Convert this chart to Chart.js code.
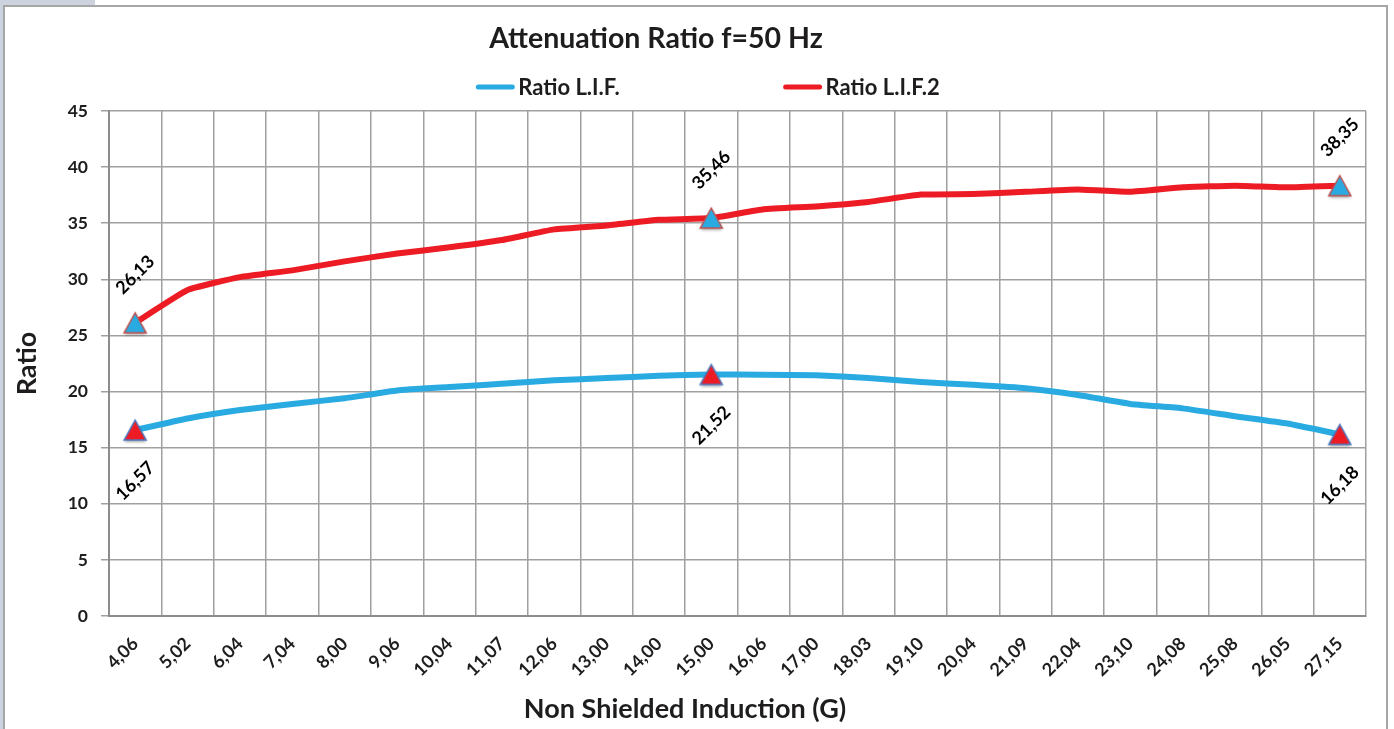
<!DOCTYPE html>
<html>
<head>
<meta charset="utf-8">
<title>Attenuation Ratio f=50 Hz</title>
<script src="https://cdn.jsdelivr.net/npm/chart.js@4.4.0/dist/chart.umd.min.js"></script>
<style>
html, body { margin: 0; padding: 0; background: #fff; overflow: hidden; }
#wrap { position: relative; width: 1394px; height: 729px; }
#frame { position: absolute; left: 3px; top: 5px; width: 1385px; height: 760px; border: 2px solid #a6a6a6; box-sizing: border-box; }
#tab { position: absolute; left: 0; top: 0; width: 95px; height: 5px; background: #ccd3df; }
#strip { position: absolute; left: 0; top: 0; width: 3px; height: 729px; background: #ccd3df; }
#myChart { position: absolute; left: 0; top: 0; }
</style>
</head>
<body>
<div id="wrap">
  <div id="tab"></div>
  <div id="strip"></div>
  <div id="frame"></div>
  <canvas id="myChart" width="1394" height="729"></canvas>
</div>
<script>
// 數據
const titleText = 'Attenuation Ratio f=50 Hz';
const xTitleText = 'Non Shielded Induction (G)';
const categories = ['4,06', '5,02', '6,04', '7,04', '8,00', '9,06', '10,04', '11,07', '12,06', '13,00', '14,00', '15,00',
    '16,06', '17,00', '18,03', '19,10', '20,04', '21,09', '22,04', '23,10', '24,08', '25,08', '26,05', '27,15'];
const ratioLIF = [16.57, 17.6, 18.35, 18.9, 19.4, 20.1, 20.4, 20.7, 21.0, 21.2, 21.4, 21.52,
    21.5, 21.45, 21.2, 20.85, 20.6, 20.3, 19.7, 18.9, 18.5, 17.8, 17.15, 16.18];
const ratioLIF2 = [26.13, 29.05, 30.2, 30.8, 31.6, 32.3, 32.85, 33.5, 34.45, 34.8, 35.3, 35.46,
    36.25, 36.5, 36.9, 37.55, 37.6, 37.8, 38.0, 37.8, 38.2, 38.35, 38.2, 38.35];
const markedIdx = [0, 11, 23];

const blue = '#29abe2';
const red = '#ed1c24';
const gridColor = '#a0a0a0';
const textColor = '#1e1c1d';

// 三角形標記
function makeTriangle(fill, stroke) {
    const c = document.createElement('canvas');
    c.width = 30;
    c.height = 30;
    const g = c.getContext('2d');
    g.shadowColor = 'rgba(0,0,0,0.35)';
    g.shadowBlur = 3;
    g.shadowOffsetY = 2;
    g.beginPath();
    g.moveTo(15, 5);
    g.lineTo(26, 25);
    g.lineTo(4, 25);
    g.closePath();
    g.fillStyle = fill;
    g.fill();
    g.shadowColor = 'transparent';
    g.lineWidth = 1.5;
    g.strokeStyle = stroke;
    g.stroke();
    return c;
}

function markerRadius(len) {
    let r = [];
    for (let i = 0; i < len; i++) {
        r.push(markedIdx.includes(i) ? 12 : 0);
    }
    return r;
}

// 標題、圖例、X軸標題
const headerPlugin = {
    id: 'header',
    afterDraw(chart) {
        const ctx = chart.ctx;
        ctx.save();
        ctx.fillStyle = textColor;
        ctx.textBaseline = 'middle';
        ctx.textAlign = 'center';
        ctx.font = 'bold 28.5px Lato';
        ctx.fillText(titleText, 656, 39);

        ctx.font = 'bold 27px Lato';
        ctx.fillText(xTitleText, 685, 709);

        ctx.font = 'bold 22px Lato';
        ctx.textAlign = 'left';
        const lineW = 38;
        const gap = 164;
        let items = chart.data.datasets.map(ds => ({
            text: ds.label,
            color: ds.borderColor,
            w: lineW + 4 + ctx.measureText(ds.label).width
        }));
        let total = items.reduce((s, it) => s + it.w, 0) + gap * (items.length - 1);
        let x = 708 - total / 2;
        const y = 87;
        items.forEach(it => {
            ctx.strokeStyle = it.color;
            ctx.lineWidth = 5;
            ctx.lineCap = 'round';
            ctx.beginPath();
            ctx.moveTo(x + 2, y);
            ctx.lineTo(x + lineW - 2, y);
            ctx.stroke();
            ctx.fillStyle = textColor;
            ctx.fillText(it.text, x + lineW + 4, y + 1);
            x += it.w + gap;
        });
        ctx.restore();
    }
};

// 數值標籤
const valueLabels = {
    id: 'valueLabels',
    afterDatasetsDraw(chart) {
        const ctx = chart.ctx;
        chart.data.datasets.forEach((ds, di) => {
            const meta = chart.getDatasetMeta(di);
            const dy = ds.labelBelow ? 51 : -48;
            markedIdx.forEach(i => {
                const pt = meta.data[i];
                ctx.save();
                ctx.translate(pt.x, pt.y + dy);
                ctx.rotate(-Math.PI / 4);
                ctx.font = 'bold 18px Lato';
                ctx.fillStyle = '#000';
                ctx.textAlign = 'center';
                ctx.textBaseline = 'middle';
                ctx.fillText(ds.data[i].toFixed(2).replace('.', ','), 0, 0);
                ctx.restore();
            });
        });
    }
};

function generateChart() {
    const ctx = document.getElementById('myChart').getContext('2d');
    const data = {
        labels: categories,
        datasets: [{
            label: 'Ratio L.I.F.',
            data: ratioLIF,
            borderColor: blue,
            backgroundColor: blue,
            borderWidth: 6,
            tension: 0.12,
            pointStyle: makeTriangle(red, '#4a78c0'),
            pointRadius: markerRadius(ratioLIF.length),
            labelBelow: true
        }, {
            label: 'Ratio L.I.F.2',
            data: ratioLIF2,
            borderColor: red,
            backgroundColor: red,
            borderWidth: 6,
            tension: 0.12,
            pointStyle: makeTriangle(blue, '#c0504d'),
            pointRadius: markerRadius(ratioLIF2.length),
            labelBelow: false
        }]
    };
    const options = {
        responsive: false,
        animation: false,
        events: [],
        layout: { padding: { top: 111, right: 28, bottom: 0, left: 0 } },
        plugins: {
            legend: { display: false },
            title: { display: false },
            tooltip: { enabled: false }
        },
        scales: {
            x: {
                offset: true,
                grid: { offset: true, color: gridColor, lineWidth: 1.5, drawTicks: false },
                border: { color: '#8c8c8c', width: 2 },
                ticks: {
                    autoSkip: false, maxRotation: 45, minRotation: 45, padding: 17,
                    color: textColor, font: { family: 'Lato', weight: 'bold', size: 18 }
                },
                afterFit(scale) { scale.height = 113; }
            },
            y: {
                min: 0,
                max: 45,
                grid: { color: gridColor, lineWidth: 1.5, tickLength: 8 },
                border: { color: '#8c8c8c', width: 2 },
                ticks: {
                    stepSize: 5, padding: 13, color: textColor,
                    font: { family: 'Lato', weight: 'bold', size: 17.5 }
                },
                title: {
                    display: true, text: 'Ratio', color: textColor,
                    font: { family: 'Lato', weight: 'bold', size: 27 }, padding: { top: 11, bottom: 0 }
                },
                afterFit(scale) { scale.width = 109; }
            }
        }
    };
    new Chart(ctx, {
        type: 'line',
        data: data,
        options: options,
        plugins: [valueLabels, headerPlugin]
    });
}

document.fonts.load('bold 16px Lato').then(generateChart, generateChart);
</script>
</body>
</html>
